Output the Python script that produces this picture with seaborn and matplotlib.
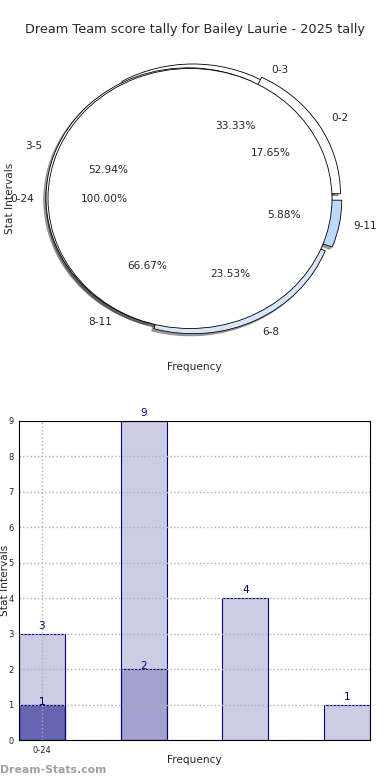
import matplotlib
matplotlib.use("Agg")
import matplotlib.pyplot as plt
import seaborn as sns
import pandas as pd

# ---- data ----
title_text = "Dream Team score tally for Bailey Laurie - 2025 tally"

pie_a_labels = ["0-24"]
pie_a_values = [1]

pie_b_labels = ["0-2", "3-5", "6-8", "9-11"]
pie_b_values = [3, 9, 4, 1]

pie_c_labels = ["0-3", "8-11"]
pie_c_values = [1, 2]

bar_positions = [0, 1, 2, 3]
bar_tick_labels = ["0-24"]

# ---- style ----
sns.set_style("white")
plt.rcParams["font.family"] = ["DejaVu Sans"]

NAVY = "#000080"
LABEL_FS = 7.6

fig = plt.figure(figsize=(3.9, 7.8), dpi=100)
fig.suptitle(title_text, fontsize=9.3, y=1 - 30 / 780, va="center")

# ---------------- top: nested pies ----------------
ax1 = fig.add_axes([12.5 / 390, 1 - 361 / 780, 355 / 390, 325 / 780])

wp = {"edgecolor": "black", "linewidth": 0.6}
tp = {"fontsize": LABEL_FS}
shadow = {"ox": -0.012, "oy": -0.012}

ax1.pie(pie_c_values, labels=pie_c_labels, autopct="%.2f%%", startangle=0,
        colors=["white", "white"], explode=[0.04, 0], shadow=shadow,
        wedgeprops=wp, textprops=tp)
ax1.pie(pie_b_values, labels=pie_b_labels, autopct="%.2f%%", startangle=0,
        colors=["white", "white", "#d9e6f9", "#bcd8fb"],
        explode=[0.07, 0.015, 0.045, 0.07], shadow=shadow, wedgeprops=wp,
        textprops=tp)
ax1.pie(pie_a_values, labels=pie_a_labels, autopct="%.2f%%", startangle=0,
        colors=["white"], shadow=shadow, wedgeprops=wp, textprops=tp)

ax1.set_aspect("auto")
ax1.set_xlim(-1.25, 1.25)
ax1.set_ylim(-1.25, 1.25)
ax1.set_frame_on(False)
ax1.set_xticks([])
ax1.set_yticks([])
ax1.set_xlabel("Frequency", fontsize=LABEL_FS)
ax1.set_ylabel("Stat Intervals", fontsize=LABEL_FS)
ax1.xaxis.set_label_coords(0.511, -0.003)
ax1.yaxis.set_label_coords(0.008, 0.5)

# ---------------- bottom: overlapping bars ----------------
ax2 = fig.add_axes([19 / 390, 40 / 780, 351 / 390, 319 / 780])

df_b = pd.DataFrame({"pos": bar_positions[:len(pie_b_values)], "val": pie_b_values})
df_c = pd.DataFrame({"pos": bar_positions[:len(pie_c_values)], "val": pie_c_values})
df_a = pd.DataFrame({"pos": bar_positions[:len(pie_a_values)], "val": pie_a_values})

for df, alpha, pad in [(df_b, 0.2, 2), (df_c, 0.2, -1.5), (df_a, 0.375, -1.5)]:
    sns.barplot(data=df, x="pos", y="val", order=bar_positions, width=0.45,
                saturation=1, color=NAVY, errorbar=None, ax=ax2)
    cont = ax2.containers[-1]
    for p in cont:
        p.set_facecolor((0, 0, 128 / 255, alpha))
        p.set_edgecolor(NAVY)
        p.set_linewidth(0.8)
    ax2.bar_label(cont, labels=[str(v) for v in df["val"]], color=NAVY,
                  fontsize=7.5, padding=pad)

ax2.set_xlim(-0.225, 3.225)
ax2.set_ylim(0, 9)
ax2.set_yticks(range(0, 10))
ax2.set_xticks([0])
ax2.set_xticklabels(bar_tick_labels)
ax2.tick_params(axis="both", labelsize=6, length=2, pad=2)
ax2.set_axisbelow(False)
ax2.grid(True, linestyle=":", color="#b0b0b0", linewidth=1)
for s in ax2.spines.values():
    s.set_color("black")
    s.set_linewidth(0.8)
    s.set_zorder(4)
ax2.set_xlabel("Frequency", fontsize=LABEL_FS)
ax2.set_ylabel("Stat Intervals", fontsize=LABEL_FS)
ax2.xaxis.set_label_coords(0.4986, -0.047)
ax2.yaxis.set_label_coords(-0.027, 0.5)

fig.text(0.0, 1 - 770 / 780, "Dream-Stats.com", fontsize=7.8, fontweight="bold",
         color="#a0a0a0", ha="left", va="center")

fig.savefig("out.png", dpi=100)
